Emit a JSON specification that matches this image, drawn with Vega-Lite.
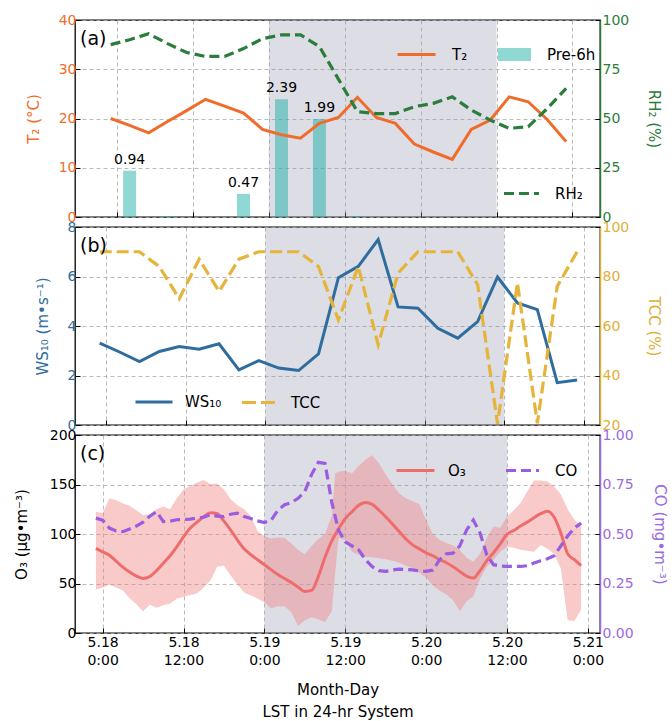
{
  "$schema": "https://vega.github.io/schema/vega-lite/v6.json",
  "background": "white",
  "padding": {"left": 13, "top": 12, "right": 2, "bottom": 2},
  "spacing": 10,
  "bounds": "flush",
  "config": {
    "font": "DejaVu Sans",
    "view": {"stroke": "black", "strokeWidth": 1.3},
    "axis": {
      "labelFont": "DejaVu Sans", "titleFont": "DejaVu Sans",
      "labelFontSize": 14, "titleFontSize": 15, "titleFontWeight": "normal",
      "tickSize": -5, "tickColor": "black", "tickWidth": 1, "domain": false,
      "gridDash": [4, 3], "gridColor": "#a8a8a8", "gridWidth": 0.8,
      "labelPadding": 4, "titlePadding": 6, "grid": false, "labelColor": "black", "titleColor": "black"
    },
    "legend": {"labelFont": "DejaVu Sans", "labelFontSize": 15, "labelColor": "black", "padding": 0, "offset": 0},
    "title": {"font": "DejaVu Sans", "fontSize": 19, "fontWeight": "normal", "anchor": "start", "frame": "group"}
  },
  "datasets": {
    "shade": [{"h": 24, "h2": 60}],
    "met": [
      {"h": -1, "t2": 20.0, "rh": 87.5}, {"h": 2, "t2": 18.6, "rh": 90}, {"h": 5, "t2": 17.1, "rh": 93},
      {"h": 8, "t2": 19.4, "rh": 88}, {"h": 11, "t2": 21.6, "rh": 83.5}, {"h": 14, "t2": 23.9, "rh": 81.5},
      {"h": 17, "t2": 22.5, "rh": 81.5}, {"h": 20, "t2": 21.1, "rh": 85.5}, {"h": 23, "t2": 17.8, "rh": 90.5},
      {"h": 26, "t2": 16.7, "rh": 92.5}, {"h": 29, "t2": 16.0, "rh": 92.5}, {"h": 32, "t2": 19.0, "rh": 86.5},
      {"h": 35, "t2": 20.2, "rh": 70}, {"h": 38, "t2": 24.3, "rh": 53.5}, {"h": 41, "t2": 20.2, "rh": 52.5},
      {"h": 44, "t2": 19.0, "rh": 52.5}, {"h": 47, "t2": 14.8, "rh": 56}, {"h": 50, "t2": 13.2, "rh": 57.7},
      {"h": 53, "t2": 11.7, "rh": 61}, {"h": 56, "t2": 17.8, "rh": 54.3}, {"h": 59, "t2": 19.7, "rh": 49.2},
      {"h": 62, "t2": 24.4, "rh": 45}, {"h": 65, "t2": 23.4, "rh": 45.8}, {"h": 68, "t2": 19.8, "rh": 55},
      {"h": 71, "t2": 15.3, "rh": 65.3}
    ],
    "pre": [
      {"h": 2, "pre": 0.94}, {"h": 8, "pre": 0.02}, {"h": 14, "pre": 0}, {"h": 20, "pre": 0.47},
      {"h": 26, "pre": 2.39}, {"h": 32, "pre": 1.99}, {"h": 38, "pre": 0.02}, {"h": 44, "pre": 0},
      {"h": 50, "pre": 0}, {"h": 56, "pre": 0}, {"h": 62, "pre": 0}, {"h": 68, "pre": 0}
    ],
    "wind": [
      {"h": -1, "ws": 3.31, "tcc": 90}, {"h": 2, "ws": 2.95, "tcc": 90}, {"h": 5, "ws": 2.56, "tcc": 90},
      {"h": 8, "ws": 2.97, "tcc": 84}, {"h": 11, "ws": 3.17, "tcc": 71}, {"h": 14, "ws": 3.06, "tcc": 87},
      {"h": 17, "ws": 3.28, "tcc": 74}, {"h": 20, "ws": 2.23, "tcc": 87}, {"h": 23, "ws": 2.60, "tcc": 90},
      {"h": 26, "ws": 2.30, "tcc": 90}, {"h": 29, "ws": 2.20, "tcc": 90}, {"h": 32, "ws": 2.87, "tcc": 84},
      {"h": 35, "ws": 5.95, "tcc": 62.5}, {"h": 38, "ws": 6.41, "tcc": 84}, {"h": 41, "ws": 7.49, "tcc": 52.4},
      {"h": 44, "ws": 4.77, "tcc": 81.4}, {"h": 47, "ws": 4.72, "tcc": 90}, {"h": 50, "ws": 3.91, "tcc": 90},
      {"h": 53, "ws": 3.51, "tcc": 90}, {"h": 56, "ws": 4.18, "tcc": 76.7}, {"h": 59, "ws": 5.98, "tcc": 20.5},
      {"h": 62, "ws": 4.93, "tcc": 77.4}, {"h": 65, "ws": 4.66, "tcc": 20.7}, {"h": 68, "ws": 1.71, "tcc": 76},
      {"h": 71, "ws": 1.82, "tcc": 90}
    ],
    "o3": [
      {"h": -1, "o3": 85.5}, {"h": 0, "o3": 82}, {"h": 1, "o3": 78.5}, {"h": 2, "o3": 72.5}, {"h": 3, "o3": 66.5},
      {"h": 4, "o3": 61.5}, {"h": 5, "o3": 57.5}, {"h": 6, "o3": 55}, {"h": 7, "o3": 57}, {"h": 8, "o3": 63},
      {"h": 9, "o3": 70.5}, {"h": 10, "o3": 78}, {"h": 11, "o3": 87}, {"h": 12, "o3": 97}, {"h": 13, "o3": 106},
      {"h": 14, "o3": 112}, {"h": 15, "o3": 117.5}, {"h": 16, "o3": 121.5}, {"h": 17, "o3": 120.5}, {"h": 18, "o3": 113},
      {"h": 19, "o3": 104}, {"h": 20, "o3": 94}, {"h": 21, "o3": 85}, {"h": 22, "o3": 79}, {"h": 23, "o3": 74},
      {"h": 24, "o3": 69}, {"h": 25, "o3": 64}, {"h": 26, "o3": 59}, {"h": 27, "o3": 55}, {"h": 28, "o3": 51},
      {"h": 29, "o3": 46.5}, {"h": 30, "o3": 42}, {"h": 31, "o3": 43}, {"h": 32, "o3": 57}, {"h": 33, "o3": 76.5},
      {"h": 34, "o3": 93}, {"h": 35, "o3": 105}, {"h": 36, "o3": 115.5}, {"h": 37, "o3": 122.5}, {"h": 38, "o3": 129},
      {"h": 39, "o3": 131.8}, {"h": 40, "o3": 130}, {"h": 41, "o3": 124}, {"h": 42, "o3": 117.5}, {"h": 43, "o3": 110},
      {"h": 44, "o3": 102.5}, {"h": 45, "o3": 95}, {"h": 46, "o3": 89}, {"h": 47, "o3": 85}, {"h": 48, "o3": 81},
      {"h": 49, "o3": 78}, {"h": 50, "o3": 74}, {"h": 51, "o3": 71}, {"h": 52, "o3": 67}, {"h": 53, "o3": 62},
      {"h": 54, "o3": 57.5}, {"h": 55, "o3": 55.5}, {"h": 56, "o3": 63}, {"h": 57, "o3": 73}, {"h": 58, "o3": 81},
      {"h": 59, "o3": 90}, {"h": 60, "o3": 99.7}, {"h": 61, "o3": 103.5}, {"h": 62, "o3": 108}, {"h": 63, "o3": 112},
      {"h": 64, "o3": 116.5}, {"h": 65, "o3": 120.5}, {"h": 66, "o3": 123}, {"h": 67, "o3": 117}, {"h": 68, "o3": 101},
      {"h": 69, "o3": 80}, {"h": 70, "o3": 74}, {"h": 71, "o3": 68}
    ],
    "band": [
      {"h": -1, "lo": 43.7, "hi": 122.6}, {"h": 0, "lo": 46, "hi": 121}, {"h": 1, "lo": 48.7, "hi": 136},
      {"h": 2, "lo": 46, "hi": 134}, {"h": 3, "lo": 43, "hi": 131}, {"h": 4, "lo": 35, "hi": 128.5},
      {"h": 5, "lo": 29, "hi": 124}, {"h": 6, "lo": 22, "hi": 119.3}, {"h": 7, "lo": 28.5, "hi": 120},
      {"h": 8, "lo": 25.5, "hi": 125}, {"h": 9, "lo": 28, "hi": 127.7}, {"h": 10, "lo": 29.5, "hi": 125},
      {"h": 11, "lo": 34.5, "hi": 136}, {"h": 12, "lo": 36.5, "hi": 145}, {"h": 13, "lo": 38.3, "hi": 148.5},
      {"h": 14, "lo": 40, "hi": 152}, {"h": 15, "lo": 46, "hi": 154.5}, {"h": 16, "lo": 53, "hi": 150.5},
      {"h": 17, "lo": 67, "hi": 151}, {"h": 18, "lo": 68, "hi": 145}, {"h": 19, "lo": 58, "hi": 135},
      {"h": 20, "lo": 49, "hi": 129}, {"h": 21, "lo": 41, "hi": 125}, {"h": 22, "lo": 38, "hi": 118},
      {"h": 23, "lo": 34.5, "hi": 103}, {"h": 24, "lo": 31, "hi": 98}, {"h": 25, "lo": 25, "hi": 95.5},
      {"h": 26, "lo": 27, "hi": 96.5}, {"h": 27, "lo": 27, "hi": 96}, {"h": 28, "lo": 21, "hi": 90.5},
      {"h": 29, "lo": 7, "hi": 84}, {"h": 30, "lo": 13, "hi": 79.5}, {"h": 31, "lo": 16, "hi": 88},
      {"h": 32, "lo": 14, "hi": 95}, {"h": 33, "lo": 11, "hi": 100}, {"h": 34, "lo": 22, "hi": 118},
      {"h": 34.5, "lo": 60, "hi": 161}, {"h": 35, "lo": 96, "hi": 163}, {"h": 36, "lo": 94, "hi": 164},
      {"h": 37, "lo": 82, "hi": 161}, {"h": 38, "lo": 79, "hi": 169}, {"h": 39, "lo": 77, "hi": 175},
      {"h": 40, "lo": 76.5, "hi": 179.5}, {"h": 41, "lo": 75.6, "hi": 171.5}, {"h": 42, "lo": 74.5, "hi": 160},
      {"h": 43, "lo": 73, "hi": 150}, {"h": 44, "lo": 71, "hi": 141}, {"h": 45, "lo": 68, "hi": 136},
      {"h": 46, "lo": 65.5, "hi": 133}, {"h": 47, "lo": 60.5, "hi": 130}, {"h": 48, "lo": 56, "hi": 114},
      {"h": 49, "lo": 48, "hi": 100}, {"h": 50, "lo": 43, "hi": 94}, {"h": 51, "lo": 39, "hi": 91},
      {"h": 52, "lo": 33, "hi": 88.5}, {"h": 53, "lo": 22, "hi": 84}, {"h": 54, "lo": 32, "hi": 76},
      {"h": 55, "lo": 37, "hi": 72}, {"h": 56, "lo": 55, "hi": 80}, {"h": 57, "lo": 67, "hi": 96},
      {"h": 58, "lo": 74, "hi": 107.5}, {"h": 59, "lo": 82, "hi": 106}, {"h": 60, "lo": 87, "hi": 117.6},
      {"h": 61, "lo": 86, "hi": 124}, {"h": 62, "lo": 84, "hi": 131}, {"h": 63, "lo": 83, "hi": 143},
      {"h": 64, "lo": 82, "hi": 154}, {"h": 65, "lo": 89, "hi": 154}, {"h": 66, "lo": 85, "hi": 153},
      {"h": 67, "lo": 80, "hi": 148}, {"h": 68, "lo": 65, "hi": 140}, {"h": 69, "lo": 13, "hi": 125},
      {"h": 70, "lo": 12, "hi": 114.3}, {"h": 71, "lo": 23.5, "hi": 107.5}
    ],
    "co": [
      {"h": -1, "co": 0.58}, {"h": 0, "co": 0.57}, {"h": 1, "co": 0.53}, {"h": 2, "co": 0.515}, {"h": 3, "co": 0.512},
      {"h": 4, "co": 0.525}, {"h": 5, "co": 0.54}, {"h": 6, "co": 0.56}, {"h": 7, "co": 0.59}, {"h": 8, "co": 0.613},
      {"h": 9, "co": 0.563}, {"h": 10, "co": 0.565}, {"h": 11, "co": 0.572}, {"h": 13, "co": 0.575}, {"h": 15, "co": 0.585},
      {"h": 16, "co": 0.597}, {"h": 17, "co": 0.59}, {"h": 18, "co": 0.588}, {"h": 19, "co": 0.6}, {"h": 20, "co": 0.605},
      {"h": 21, "co": 0.588}, {"h": 22, "co": 0.578}, {"h": 23, "co": 0.566}, {"h": 24, "co": 0.558}, {"h": 25, "co": 0.57},
      {"h": 26, "co": 0.62}, {"h": 27, "co": 0.648}, {"h": 28, "co": 0.659}, {"h": 29, "co": 0.68}, {"h": 30, "co": 0.715},
      {"h": 31, "co": 0.8}, {"h": 32, "co": 0.862}, {"h": 33, "co": 0.857}, {"h": 34, "co": 0.66}, {"h": 35, "co": 0.52},
      {"h": 36, "co": 0.46}, {"h": 37, "co": 0.44}, {"h": 38, "co": 0.42}, {"h": 39, "co": 0.37}, {"h": 40, "co": 0.335},
      {"h": 41, "co": 0.315}, {"h": 42, "co": 0.311}, {"h": 43, "co": 0.318}, {"h": 44, "co": 0.323}, {"h": 45, "co": 0.32},
      {"h": 46, "co": 0.319}, {"h": 47, "co": 0.313}, {"h": 48, "co": 0.311}, {"h": 49, "co": 0.318}, {"h": 50, "co": 0.37},
      {"h": 51, "co": 0.4}, {"h": 52, "co": 0.403}, {"h": 53, "co": 0.44}, {"h": 54, "co": 0.52}, {"h": 55, "co": 0.57},
      {"h": 56, "co": 0.505}, {"h": 57, "co": 0.395}, {"h": 58, "co": 0.345}, {"h": 59, "co": 0.338}, {"h": 60, "co": 0.336},
      {"h": 61, "co": 0.336}, {"h": 62, "co": 0.336}, {"h": 63, "co": 0.34}, {"h": 64, "co": 0.353}, {"h": 65, "co": 0.365},
      {"h": 66, "co": 0.375}, {"h": 67, "co": 0.39}, {"h": 68, "co": 0.44}, {"h": 69, "co": 0.49}, {"h": 70, "co": 0.53},
      {"h": 71, "co": 0.555}
    ]
  },
  "vconcat": [
    {
      "width": 525, "height": 197,
      "title": {"text": "(a)", "offset": -36, "dx": 5},
      "encoding": {
        "x": {"field": "h", "type": "quantitative",
          "scale": {"domain": [-5.85, 75.56], "nice": false, "zero": false},
          "axis": {"values": [0, 12, 24, 36, 48, 60, 72], "labels": false, "title": null, "grid": true}}
      },
      "layer": [
        {"data": {"name": "shade"}, "mark": {"type": "rect", "fill": "#9b9bb2", "opacity": 0.34},
          "encoding": {"x2": {"field": "h2"}}},
        {"data": {"name": "pre"},
          "layer": [
            {"mark": {"type": "bar", "width": 13, "opacity": 0.5},
              "encoding": {
                "y": {"field": "pre", "type": "quantitative", "scale": {"domain": [0, 4], "nice": false, "zero": true}, "axis": null},
                "fill": {"datum": "Pre-6h", "type": "nominal", "scale": {"range": ["#20b2aa"]},
                  "legend": {"orient": "none", "legendX": 422, "legendY": 17, "title": null, "symbolType": "M-1,-0.4H1V0.4H-1Z", "symbolSize": 1089, "symbolOpacity": 0.5, "labelOffset": 15}}}},
            {"transform": [{"filter": "datum.pre >= 0.1"}],
              "mark": {"type": "text", "baseline": "alphabetic", "dy": -7, "fontSize": 14, "color": "black"},
              "encoding": {
                "y": {"field": "pre", "type": "quantitative"},
                "text": {"field": "pre", "type": "quantitative", "format": ".2f"}}}
          ]},
        {"data": {"name": "met"}, "mark": {"type": "line", "strokeWidth": 3},
          "encoding": {
            "y": {"field": "t2", "type": "quantitative", "scale": {"domain": [0, 40], "nice": false, "zero": false},
              "axis": {"orient": "left", "values": [0, 10, 20, 30, 40], "grid": true, "title": "T₂ (°C)", "titlePadding": 17, "labelColor": "#ef6c2b", "titleColor": "#ef6c2b"}},
            "stroke": {"datum": "T₂", "type": "nominal", "scale": {"range": ["#ef6c2b"]},
              "legend": {"orient": "none", "legendX": 321, "legendY": 14, "title": null, "symbolType": "stroke", "symbolSize": 1444, "symbolStrokeWidth": 3, "labelOffset": 15}}}},
        {"data": {"name": "met"}, "mark": {"type": "line", "strokeWidth": 3.2, "strokeDash": [10, 5]},
          "encoding": {
            "y": {"field": "rh", "type": "quantitative", "scale": {"domain": [0, 100], "nice": false, "zero": false},
              "axis": {"orient": "right", "values": [0, 25, 50, 75, 100], "grid": false, "title": "RH₂ (%)", "labelPadding": 7, "titlePadding": 17, "labelColor": "#2b7d3c", "titleColor": "#2b7d3c", "domain": true, "domainColor": "#2b7d3c", "domainWidth": 1.5}},
            "stroke": {"datum": "RH₂", "type": "nominal", "scale": {"range": ["#2b7d3c"]},
              "legend": {"orient": "none", "legendX": 427, "legendY": 154, "title": null, "symbolType": "stroke", "symbolSize": 1225, "symbolStrokeWidth": 3.2, "symbolDash": [10, 5], "labelOffset": 14}}}}
      ],
      "resolve": {"scale": {"y": "independent", "stroke": "independent"}, "legend": {"stroke": "independent"}}
    },
    {
      "width": 525, "height": 198,
      "title": {"text": "(b)", "offset": -36, "dx": 5},
      "encoding": {
        "x": {"field": "h", "type": "quantitative",
          "scale": {"domain": [-4.72, 74.45], "nice": false, "zero": false},
          "axis": {"values": [0, 12, 24, 36, 48, 60, 72], "labels": false, "title": null, "grid": true}}
      },
      "layer": [
        {"data": {"name": "shade"}, "mark": {"type": "rect", "fill": "#9b9bb2", "opacity": 0.34},
          "encoding": {"x2": {"field": "h2"}}},
        {"data": {"name": "wind"}, "mark": {"type": "line", "strokeWidth": 3},
          "encoding": {
            "y": {"field": "ws", "type": "quantitative", "scale": {"domain": [0, 8], "nice": false, "zero": false},
              "axis": {"orient": "left", "values": [0, 2, 4, 6, 8], "grid": true, "title": "WS₁₀ (m•s⁻¹)", "titlePadding": 17, "labelColor": "#2e6d9e", "titleColor": "#2e6d9e"}},
            "stroke": {"datum": "WS₁₀", "type": "nominal", "scale": {"range": ["#2e6d9e"]},
              "legend": {"orient": "none", "legendX": 59, "legendY": 155, "title": null, "symbolType": "stroke", "symbolSize": 1369, "symbolStrokeWidth": 3, "labelOffset": 11}}}},
        {"data": {"name": "wind"}, "mark": {"type": "line", "strokeWidth": 3.2, "strokeDash": [12, 5]},
          "encoding": {
            "y": {"field": "tcc", "type": "quantitative", "scale": {"domain": [20, 100], "nice": false, "zero": false},
              "axis": {"orient": "right", "values": [20, 40, 60, 80, 100], "grid": false, "title": "TCC (%)", "labelPadding": 7, "titlePadding": 17, "labelColor": "#deb03a", "titleColor": "#deb03a", "domain": true, "domainColor": "#deb03a", "domainWidth": 1.5}},
            "stroke": {"datum": "TCC", "type": "nominal", "scale": {"range": ["#e5b43a"]},
              "legend": {"orient": "none", "legendX": 165, "legendY": 157, "title": null, "symbolType": "stroke", "symbolSize": 1089, "symbolStrokeWidth": 3.2, "symbolDash": [14, 5], "labelOffset": 14}}}}
      ],
      "resolve": {"scale": {"y": "independent", "stroke": "independent"}, "legend": {"stroke": "independent"}}
    },
    {
      "width": 525, "height": 198,
      "title": {"text": "(c)", "offset": -36, "dx": 5},
      "encoding": {
        "x": {"field": "h", "type": "quantitative",
          "scale": {"domain": [-4.1, 73.8], "nice": false, "zero": false},
          "axis": {"values": [0, 12, 24, 36, 48, 60, 72], "grid": true,
            "labelExpr": "['5.' + (18 + floor(datum.value / 24)), (datum.value % 24) + ':00']",
            "labelLineHeight": 18, "labelPadding": 7,
            "title": ["Month-Day", "LST in 24-hr System"], "titleLineHeight": 22, "titlePadding": 15}}
      },
      "layer": [
        {"data": {"name": "shade"}, "mark": {"type": "rect", "fill": "#9b9bb2", "opacity": 0.34},
          "encoding": {"x2": {"field": "h2"}}},
        {"layer": [
          {"data": {"name": "band"}, "mark": {"type": "area", "color": "#f08080", "opacity": 0.42},
            "encoding": {
              "y": {"field": "lo", "type": "quantitative", "scale": {"domain": [0, 200], "nice": false, "zero": false},
                "axis": {"orient": "left", "values": [0, 50, 100, 150, 200], "grid": true, "title": "O₃ (μg•m⁻³)", "titlePadding": 20}},
              "y2": {"field": "hi"}}},
          {"data": {"name": "o3"}, "mark": {"type": "line", "strokeWidth": 3, "interpolate": "monotone"},
            "encoding": {
              "y": {"field": "o3", "type": "quantitative"},
              "stroke": {"datum": "O₃", "type": "nominal", "scale": {"range": ["#ee6c6c"]},
                "legend": {"orient": "none", "legendX": 320, "legendY": 15, "title": null, "symbolType": "stroke", "symbolSize": 1444, "symbolStrokeWidth": 3, "labelOffset": 12}}}}
        ]},
        {"data": {"name": "co"}, "mark": {"type": "line", "strokeWidth": 3.2, "strokeDash": [10, 5]},
          "encoding": {
            "y": {"field": "co", "type": "quantitative", "scale": {"domain": [0, 1], "nice": false, "zero": false},
              "axis": {"orient": "right", "values": [0, 0.25, 0.5, 0.75, 1], "format": ".2f", "grid": false, "title": "CO (mg•m⁻³)", "labelPadding": 7, "titlePadding": 18, "labelColor": "#9b6ade", "titleColor": "#9b6ade", "domain": true, "domainColor": "#9b6ade", "domainWidth": 1.5}},
            "stroke": {"datum": "CO", "type": "nominal", "scale": {"range": ["#9a5ce0"]},
              "legend": {"orient": "none", "legendX": 429, "legendY": 17, "title": null, "symbolType": "stroke", "symbolSize": 1089, "symbolStrokeWidth": 3.2, "symbolDash": [10, 5], "labelOffset": 14}}}}
      ],
      "resolve": {"scale": {"y": "independent", "stroke": "independent"}, "legend": {"stroke": "independent"}}
    }
  ]
}
